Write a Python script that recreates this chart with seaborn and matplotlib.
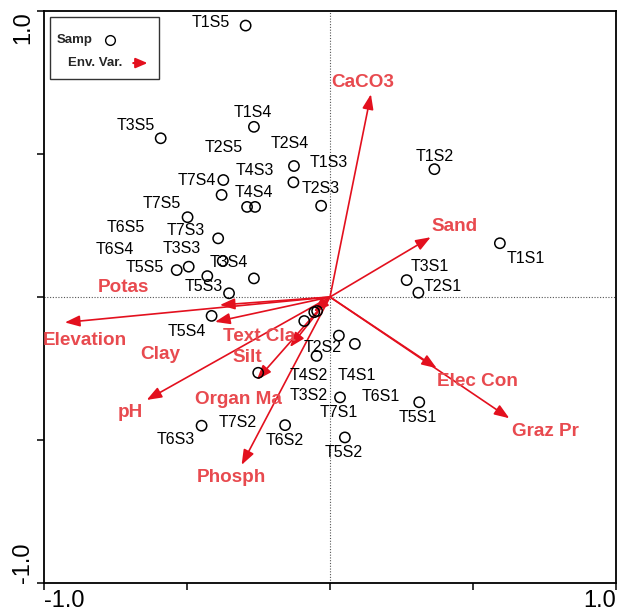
import numpy as np
import pandas as pd
import matplotlib
matplotlib.use('Agg')
import matplotlib.pyplot as plt
import seaborn as sns
from matplotlib.patches import Rectangle

# ---- sample scores (CCA axis 1 / axis 2) ----
samples = ['T1S5', 'T1S4', 'T3S5', 'T2S4', 'T1S3', 'T2S5', 'T7S4', 'T4S3', 'T4S4', 'T2S3',
           'T7S5', 'T7S3', 'T3S4', 'T3S3', 'T5S5', 'T6S4', 'T6S5', 'T5S3', 'T1S2', 'T1S1',
           'T3S1', 'T2S1', 'T6S1', 'T4S1', 'T2S2', 'T7S1', 'T5S1', 'T5S2', 'T3S2', 'T4S5',
           'T4S2', 'T7S2', 'T5S4', 'T6S3', 'T6S2']
axis1 = [-0.295, -0.266, -0.592, -0.126, -0.128, -0.373, -0.379, -0.290, -0.262, -0.031,
         -0.498, -0.391, -0.375, -0.494, -0.536, -0.429, -0.266, -0.353, 0.365, 0.594,
         0.268, 0.309, 0.031, 0.087, -0.047, 0.035, 0.312, 0.052, -0.055, -0.045,
         -0.090, -0.251, -0.414, -0.449, -0.157]
axis2 = [0.949, 0.595, 0.555, 0.458, 0.401, 0.409, 0.357, 0.315, 0.315, 0.319,
         0.279, 0.205, 0.126, 0.106, 0.094, 0.073, 0.065, 0.013, 0.447, 0.188,
         0.059, 0.015, -0.135, -0.164, -0.206, -0.351, -0.368, -0.491, -0.053, -0.049,
         -0.084, -0.265, -0.066, -0.450, -0.448]

# ---- environmental variable arrows ----
env_vars = ['CaCO3', 'Sand', 'Elec Con', 'Graz Pr', 'Elevation', 'Potas', 'Clay',
            'Text Cla', 'Silt', 'Organ Ma', 'pH', 'Phosph']
env_x = [0.143, 0.352, 0.373, 0.627, -0.927, -0.385, -0.402, -0.140, -0.056, -0.256, -0.641, -0.309]
env_y = [0.709, 0.209, -0.249, -0.424, -0.089, -0.028, -0.087, -0.175, -0.052, -0.290, -0.360, -0.587]

# label offsets (pixels) as placed in the original plot
samp_off = {'T1S5': (-35, 3), 'T1S4': (-1, 14), 'T3S5': (-25, 13), 'T2S4': (-4, 23),
            'T1S3': (35, 20), 'T2S5': (0, 33), 'T7S4': (-25, 14), 'T4S3': (8, 36),
            'T4S4': (-1, 14), 'T2S3': (0, 17), 'T7S5': (-26, 14), 'T7S3': (-32, 8),
            'T3S4': (6, -2), 'T3S3': (-7, 18), 'T5S5': (-32, 3), 'T6S4': (-92, 27),
            'T6S5': (-128, 51), 'T5S3': (-25, 7), 'T1S2': (0, 13), 'T1S1': (26, -15),
            'T3S1': (23, 14), 'T2S1': (24, 6), 'T6S1': (42, -61), 'T4S1': (2, -32),
            'T2S2': (6, 8), 'T7S1': (-1, -15), 'T5S1': (-1, -15), 'T5S2': (-1, -15),
            'T3S2': (-6, -83), 'T4S2': (4, -54), 'T7S2': (-21, -50), 'T5S4': (-25, -16),
            'T6S3': (-26, -14), 'T6S2': (0, -15)}
env_off = {'CaCO3': (-8, 12), 'Sand': (24, 11), 'Elec Con': (41, -13), 'Graz Pr': (36, -13),
           'Elevation': (20, -18), 'Potas': (-96, 18), 'Clay': (-55, -33), 'Text Cla': (-31, 11),
           'Silt': (-67, -46), 'Organ Ma': (-18, -20), 'pH': (-16, -13), 'Phosph': (-10, -13)}

df = pd.DataFrame({'sample': samples, 'ax1': axis1, 'ax2': axis2})

sns.set_theme(style='white')
plt.rcParams['font.family'] = ['Liberation Sans', 'DejaVu Sans']

arrow_red = '#e3101e'
text_red = '#e84a4f'

fig = plt.figure(figsize=(6.17, 6.14), dpi=100)
ax = fig.add_axes([44 / 617, 31 / 614, 572 / 617, 572 / 614])

ax.axhline(0, color='#555555', lw=0.8, ls=(0, (1, 1.5)), zorder=0)
ax.axvline(0, color='#555555', lw=0.8, ls=(0, (1, 1.5)), zorder=0)

# arrows
for name, x, y in zip(env_vars, env_x, env_y):
    ax.annotate('', xy=(x, y), xytext=(0, 0),
                arrowprops=dict(arrowstyle='-|>,head_length=0.75,head_width=0.28',
                                color=arrow_red, lw=1.2, shrinkA=0, shrinkB=0,
                                mutation_scale=12), zorder=2)
    dx, dy = env_off[name]
    ax.annotate(name, xy=(x, y), xytext=(dx, dy), textcoords='offset pixels',
                ha='center', va='center', color=text_red, fontsize=13.6,
                fontweight='bold', zorder=4)

sns.scatterplot(data=df, x='ax1', y='ax2', ax=ax, s=55, marker='o',
                facecolor='none', edgecolor='black', linewidth=1.1, zorder=3, legend=False)

for name, x, y in zip(samples, axis1, axis2):
    if name not in samp_off:
        continue
    dx, dy = samp_off[name]
    ax.annotate(name, xy=(x, y), xytext=(dx, dy), textcoords='offset pixels',
                ha='center', va='center', color='black', fontsize=11.5, zorder=4)

ax.set_xlim(-1.0, 1.0)
ax.set_ylim(-1.0, 1.0)
ticks = [-1.0, -0.5, 0.0, 0.5, 1.0]
ax.set_xticks(ticks)
ax.set_xticklabels(['-1.0', '', '', '', '1.0'])
ax.set_yticks(ticks)
ax.set_yticklabels(['-1.0', '', '', '', '1.0'], rotation=90)
ax.tick_params(axis='both', direction='out', length=5, width=1.1, labelsize=17,
               bottom=True, left=True, top=False, right=False, pad=2, colors='black')
ax.tick_params(axis='x', pad=0)
xl = ax.get_xticklabels()
xl[0].set_ha('left')
xl[-1].set_ha('right')
yl = ax.get_yticklabels()
yl[0].set_va('bottom')
yl[-1].set_va('top')
ax.set_xlabel('')
ax.set_ylabel('')
for sp in ax.spines.values():
    sp.set_color('black')
    sp.set_linewidth(1.3)

# legend box
ax.add_patch(Rectangle((0.0105, 0.881), 0.19, 0.108, transform=ax.transAxes,
                       fill=False, edgecolor='#333333', lw=1.0, zorder=5))
ax.text(0.0227, 0.949, 'Samp', transform=ax.transAxes, ha='left', va='center',
        fontsize=9.5, fontweight='bold', zorder=6)
ax.plot([0.115], [0.949], transform=ax.transAxes, marker='o', ms=7,
        mfc='none', mec='black', mew=1.0, zorder=6)
ax.text(0.042, 0.909, 'Env. Var.', transform=ax.transAxes, ha='left', va='center',
        fontsize=9.5, fontweight='bold', zorder=6)
ax.annotate('', xy=(0.181, 0.909), xytext=(0.156, 0.909), xycoords='axes fraction',
            arrowprops=dict(arrowstyle='-|>,head_length=0.7,head_width=0.3',
                            color=arrow_red, lw=1.5, shrinkA=0, shrinkB=0,
                            mutation_scale=10), zorder=6)

fig.savefig('out.png', dpi=100)
